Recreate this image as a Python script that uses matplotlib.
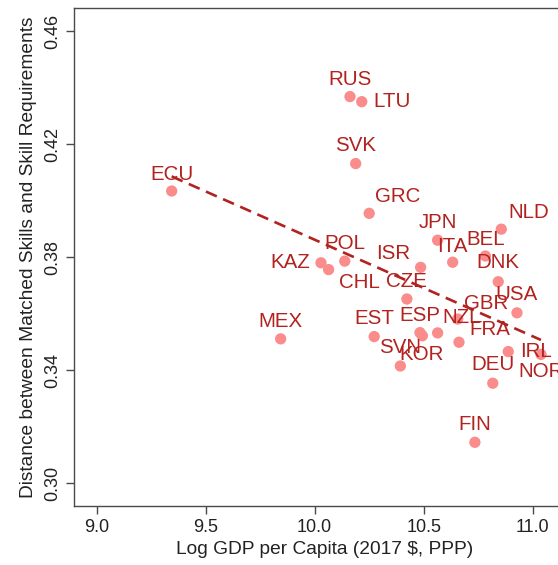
import numpy as np
import matplotlib
matplotlib.use("Agg")
import matplotlib.pyplot as plt

plt.rcParams['font.family'] = ['Liberation Sans', 'DejaVu Sans']

countries = ["RUS", "LTU", "SVK", "ECU", "GRC", "NLD", "JPN", "BEL", "ITA", "ISR",
             "KAZ", "CHL", "POL", "DNK", "CZE", "USA", "GBR", "MEX", "EST", "ESP",
             "KOR", "NZL", "FRA", "IRL", "NOR", "DEU", "FIN", "SVN"]
log_gdp = [10.162, 10.216, 10.188, 9.344, 10.250, 10.856, 10.564, 10.783, 10.633, 10.486,
           10.029, 10.064, 10.138, 10.842, 10.423, 10.928, 10.656, 9.844, 10.273, 10.483,
           10.494, 10.564, 10.662, 10.888, 11.038, 10.817, 10.735, 10.393]
distance = [0.4368, 0.4350, 0.4131, 0.4034, 0.3955, 0.3899, 0.3860, 0.3804, 0.3782, 0.3764,
            0.3780, 0.3756, 0.3786, 0.3713, 0.3652, 0.3603, 0.3581, 0.3511, 0.3519, 0.3533,
            0.3522, 0.3532, 0.3499, 0.3466, 0.3456, 0.3354, 0.3145, 0.3415]

# label offsets in pixels (dx right, dy down) relative to each point
label_offsets = {
    "RUS": (0, -17), "LTU": (30, 0), "SVK": (0, -18), "ECU": (0, -17),
    "GRC": (29, -17), "NLD": (27, -17), "JPN": (0, -17.5), "BEL": (0, -17),
    "ITA": (0, -16), "ISR": (-27, -13.5), "KAZ": (-31, 0), "CHL": (30.5, 12.5),
    "POL": (0, -17.7), "DNK": (0, -19), "CZE": (0, -17.7), "USA": (0, -18),
    "GBR": (28, -15.7), "MEX": (0, -17.7), "EST": (0, -18), "ESP": (0, -17.4),
    "KOR": (-1, 19), "NZL": (24, -15.5), "FRA": (30.5, -12.8), "IRL": (27.5, 0),
    "NOR": (0, 17.4), "DEU": (0, -18.6), "FIN": (0, -17.8), "SVN": (0, -18),
}

x_ticks = [9.0, 9.5, 10.0, 10.5, 11.0]
y_ticks = [0.30, 0.34, 0.38, 0.42, 0.46]

W, H = 558, 565
fig = plt.figure(figsize=(W / 100, H / 100), dpi=100)
left, right, top, bottom = 74, 576, 8, 506
ax = fig.add_axes([left / W, (H - bottom) / H, (right - left) / W, (bottom - top) / H])

x = np.array(log_gdp)
y = np.array(distance)

ax.scatter(x, y, s=66, color="#FA8C8C", edgecolors="none", zorder=2, clip_on=False)

slope, intercept = np.polyfit(x, y, 1)
xs = np.array([x.min(), x.max()])
ax.plot(xs, intercept + slope * xs, color="#B2221F", lw=1.9,
        linestyle=(0, (4.5, 2.6)), zorder=3)

for c, xi, yi in zip(countries, x, y):
    dx, dy = label_offsets[c]
    ax.annotate(c, (xi, yi), xytext=(dx, -dy), textcoords="offset pixels",
                ha="center", va="center", fontsize=14.8, color="#B2221F", zorder=4,
                annotation_clip=False)

ax.set_xlim(8.896, 8.896 + (right - left) / 218.0)
ax.set_ylim(0.30 - (bottom - 483.3) / 2827.0, 0.46 + (31 - top) / 2827.0)
ax.set_xticks(x_ticks)
ax.set_xticklabels([f"{t:.1f}" for t in x_ticks])
ax.set_yticks(y_ticks)
ax.set_yticklabels([f"{t:.2f}" for t in y_ticks], rotation=90, va="center")

for sp in ax.spines.values():
    sp.set_color("#4a4a4a")
    sp.set_linewidth(1.0)
ax.tick_params(axis="both", length=5.6, width=1.0, color="#4a4a4a",
               labelsize=13, labelcolor="#222222", pad=3.5)

ax.set_xlabel("Log GDP per Capita (2017 $, PPP)", fontsize=13.8, color="#222222", labelpad=4)
ax.set_ylabel("Distance between Matched Skills and Skill Requirements", fontsize=13.8,
              color="#222222", labelpad=5)

fig.savefig("out.png", dpi=100)
